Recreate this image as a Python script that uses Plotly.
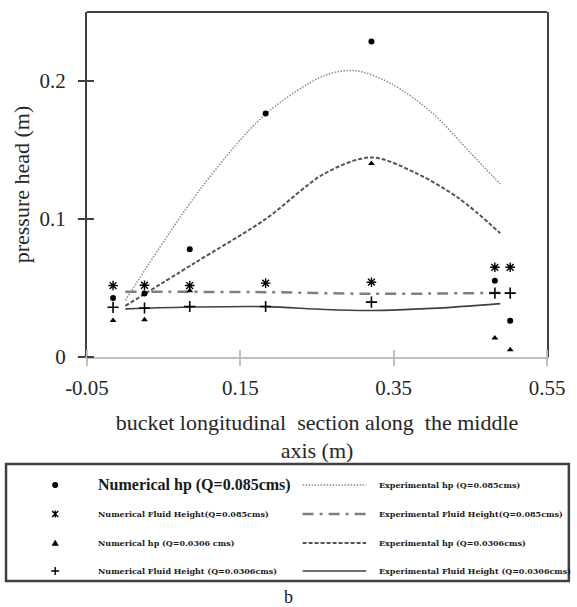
import plotly.graph_objects as go

# ---------------- data ----------------
num_x = [-0.016, 0.025, 0.084, 0.183, 0.321, 0.482, 0.502]
num_hp_085 = [0.0427, 0.046, 0.078, 0.1764, 0.2287, 0.0552, 0.0262]
num_fh_085 = [0.0518, 0.052, 0.0518, 0.0535, 0.0542, 0.065, 0.065]
num_hp_0306 = [0.0265, 0.027, 0.048, None, 0.1403, 0.0137, 0.0053]
num_fh_0306 = [0.036, 0.0355, 0.0366, 0.0366, 0.0398, 0.0463, 0.0463]

exp_hp_085_x = [0, 0.097, 0.183, 0.26, 0.30, 0.347, 0.40, 0.45, 0.489]
exp_hp_085 = [0.041, 0.121, 0.176, 0.204, 0.2075, 0.198, 0.177, 0.148, 0.1253]
exp_hp_0306_x = [0, 0.09, 0.183, 0.26, 0.321, 0.38, 0.435, 0.489]
exp_hp_0306 = [0.037, 0.068, 0.100, 0.133, 0.1446, 0.133, 0.115, 0.0897]
exp_fh_085_x = [0, 0.183, 0.321, 0.489]
exp_fh_085 = [0.0472, 0.047, 0.0458, 0.0465]
exp_fh_0306_x = [0, 0.09, 0.183, 0.26, 0.32, 0.40, 0.489]
exp_fh_0306 = [0.0349, 0.0362, 0.0365, 0.0344, 0.0337, 0.0352, 0.0387]

x_ticks = [-0.05, 0.15, 0.35, 0.55]
x_tick_labels = ["-0.05", "0.15", "0.35", "0.55"]
y_ticks = [0, 0.1, 0.2]
y_tick_labels = ["0", "0.1", "0.2"]

legend_left = ["<b>Numerical hp (Q=0.085cms)</b>",
               "<b>Numerical Fluid Height(Q=0.085cms)</b>",
               "<b>Numerical hp (Q=0.0306 cms)</b>",
               "<b>Numerical Fluid Height (Q=0.0306cms)</b>"]
legend_right = ["<b>Experimental hp (Q=0.085cms)</b>",
                "<b>Experimental Fluid Height(Q=0.085cms)</b>",
                "<b>Experimental hp (Q=0.0306cms)</b>",
                "<b>Experimental Fluid Height (Q=0.0306cms)</b>"]

# ---------------- styles ----------------
W, H = 577, 607
ML, MR, MT, MB = 87, 27, 12, 250
PW, PH = W - ML - MR, H - MT - MB
SERIF = "Liberation Serif"

line_styles = [
    dict(color="#8c8c8c", width=1.5, dash="1.5px,1.5px"),
    dict(color="#7f7f7f", width=2.5, dash="11px,6px,3px,6px"),
    dict(color="#555555", width=2, dash="4px,2px"),
    dict(color="#404040", width=1.6),
]

fig = go.Figure()
for xs, ys, st in [(exp_hp_085_x, exp_hp_085, line_styles[0]),
                   (exp_fh_085_x, exp_fh_085, line_styles[1]),
                   (exp_hp_0306_x, exp_hp_0306, line_styles[2]),
                   (exp_fh_0306_x, exp_fh_0306, line_styles[3])]:
    fig.add_trace(go.Scatter(x=xs, y=ys, mode="lines",
                             line=dict(shape="spline", smoothing=0.9, **st),
                             showlegend=False, hoverinfo="skip"))

fig.add_trace(go.Scatter(x=num_x, y=num_fh_0306, mode="markers", showlegend=False,
                         marker=dict(symbol="cross-thin-open", size=8, color="black",
                                     line=dict(color="black", width=1.6))))
fig.add_trace(go.Scatter(x=num_x, y=num_fh_085, mode="markers", showlegend=False,
                         marker=dict(symbol="asterisk-open", size=8, color="black",
                                     line=dict(color="black", width=1.4))))
fig.add_trace(go.Scatter(x=num_x, y=num_hp_0306, mode="markers", showlegend=False,
                         marker=dict(symbol="triangle-up", size=6, color="black")))
fig.add_trace(go.Scatter(x=num_x, y=num_hp_085, mode="markers", showlegend=False,
                         marker=dict(symbol="circle", size=6, color="black")))


def px_x(p):
    return (p - ML) / PW


def px_y(p):
    return (H - MB - p) / PH


shapes = []
annotations = []
# top border of plot area
shapes.append(dict(type="line", xref="paper", yref="paper", x0=0, x1=1, y0=1, y1=1,
                   line=dict(color="#404040", width=2)))

# legend box
shapes.append(dict(type="rect", xref="paper", yref="paper",
                   x0=px_x(5.5), x1=px_x(572), y0=px_y(464), y1=px_y(581),
                   line=dict(color="#404040", width=2.5)))
row_y = [485, 514, 543, 571]
mk_x = px_x(55)
marker_paths = [
    None,
    "M-3,-3L3,3M-3,3L3,-3M0,-3.5L0,3.5",
    "M-3.2,-2.6L3.2,-2.6L0,3Z",
    "M-4,0L4,0M0,-4L0,4",
]
for i, ry in enumerate(row_y):
    yy = px_y(ry)
    if i == 0:
        shapes.append(dict(type="circle", xref="paper", yref="paper",
                           xsizemode="pixel", ysizemode="pixel",
                           xanchor=mk_x, yanchor=yy, x0=-3, x1=3, y0=-3, y1=3,
                           fillcolor="black", line=dict(color="black", width=0)))
    else:
        filled = i == 2
        shapes.append(dict(type="path", xref="paper", yref="paper",
                           xsizemode="pixel", ysizemode="pixel",
                           xanchor=mk_x, yanchor=yy, path=marker_paths[i],
                           fillcolor="black" if filled else None,
                           line=dict(color="black", width=1.4 if not filled else 0.5)))
    shapes.append(dict(type="line", xref="paper", yref="paper",
                       x0=px_x(304), x1=px_x(368), y0=yy, y1=yy,
                       line=line_styles[i]))
    annotations.append(dict(xref="paper", yref="paper", x=px_x(95.7), y=yy,
                            xanchor="left", yanchor="middle", showarrow=False,
                            text=legend_left[i],
                            font=dict(family=SERIF if i == 0 else "DejaVu Serif",
                                      size=16 if i == 0 else 8, color="#1a1a1a")))
    annotations.append(dict(xref="paper", yref="paper", x=px_x(379), y=yy,
                            xanchor="left", yanchor="middle", showarrow=False,
                            text=legend_right[i],
                            font=dict(family="DejaVu Serif", size=8, color="#1a1a1a")))

annotations.append(dict(xref="paper", yref="paper", x=px_x(290), y=px_y(597),
                        xanchor="center", yanchor="middle", showarrow=False,
                        text="b", font=dict(family=SERIF, size=18, color="#1a1a1a")))

fig.update_layout(
    width=W, height=H, autosize=False,
    margin=dict(l=ML, r=MR, t=MT, b=MB, pad=0),
    paper_bgcolor="white", plot_bgcolor="white",
    showlegend=False,
    shapes=shapes, annotations=annotations,
    font=dict(family=SERIF, size=21, color="#262626"),
)
fig.update_xaxes(
    range=[-0.05, 0.55], tickmode="array", tickvals=x_ticks, ticktext=x_tick_labels,
    showgrid=False, zeroline=False, showline=True, linecolor="#c0c0c0", linewidth=2,
    ticks="outside", ticklen=7, tickwidth=1.5, tickcolor="#c0c0c0",
    minor=dict(tickmode="array", tickvals=x_ticks, ticks="inside", ticklen=7,
               tickwidth=1.5, tickcolor="#c0c0c0"),
    ticklabelstandoff=4,
    tickfont=dict(family=SERIF, size=21, color="#262626"),
    title=dict(text="bucket longitudinal\u00a0 section along\u00a0 the middle<br>axis (m)",
               font=dict(family=SERIF, size=22, color="#262626"), standoff=15),
)
fig.update_yaxes(
    range=[0, 0.25], tickmode="array", tickvals=y_ticks, ticktext=y_tick_labels,
    showgrid=False, zeroline=False, showline=True, mirror=True,
    linecolor="#404040", linewidth=2,
    ticks="outside", ticklen=7, tickwidth=2, tickcolor="#404040",
    minor=dict(tickmode="array", tickvals=y_ticks, ticks="inside", ticklen=7,
               tickwidth=2, tickcolor="#404040"),
    ticklabelstandoff=8,
    tickfont=dict(family=SERIF, size=21, color="#262626"),
    title=dict(text="pressure head (m)",
               font=dict(family=SERIF, size=22, color="#262626"), standoff=4),
)

fig.write_html("out.html")
